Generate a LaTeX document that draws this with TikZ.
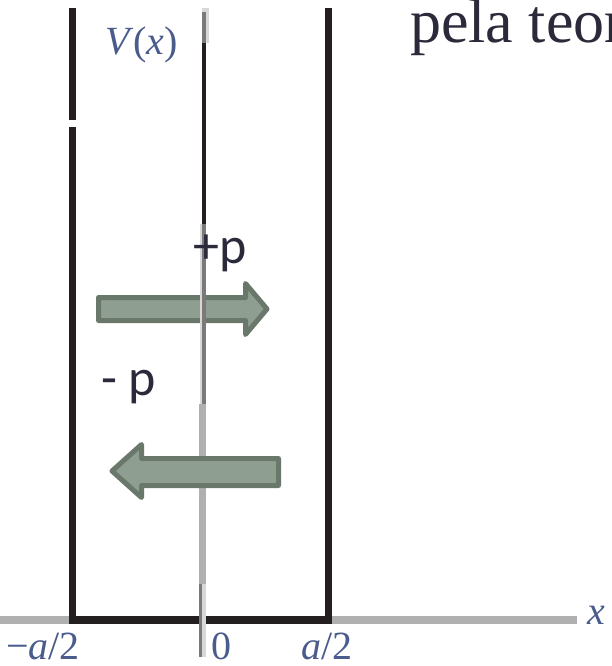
\documentclass[tikz,border=0pt]{standalone}
\usepackage{fontspec}
\setmainfont{Liberation Serif}
\newfontfamily\calibfont{Carlito}
\definecolor{wallc}{HTML}{231F20}
\definecolor{axisc}{HTML}{B0B0B0}
\definecolor{midg}{HTML}{7A7A7A}
\definecolor{lightg}{HTML}{D8D8D8}
\definecolor{arrowfill}{HTML}{8E9E90}
\definecolor{arrowline}{HTML}{6A776B}
\definecolor{labelc}{HTML}{4A5C8C}
\definecolor{textc}{HTML}{2B2A3A}
\tikzset{
  wallpart/.style={fill=wallc},
  fatarrow/.style={fill=arrowfill, draw=arrowline, line width=5pt, line join=round},
  axlabel/.style={anchor=base west, inner sep=0pt, text depth=0pt, text=labelc, font=\fontsize{40}{48}\selectfont},
  plabel/.style={anchor=base west, inner sep=0pt, text=textc, font=\calibfont\fontsize{52}{60}\selectfont},
}
\begin{document}
\begin{tikzpicture}[x=1pt,y=-1pt]
\useasboundingbox (0,0) rectangle (612,666);
\clip (0,0) rectangle (612,666);
% x axis
\fill[axisc] (0,616) rectangle (577,624);
% walls
\fill[wallpart] (69,8) rectangle (76,120);
\fill[wallpart] (69,127) rectangle (76,624);
\fill[wallpart] (325,8) rectangle (332,624);
\fill[wallpart] (69,616) rectangle (332,624);
% right arrow (+p)
\draw[fatarrow] (98.5,297.5) -- (245.5,297.5) -- (245.5,283.5) -- (267,309) -- (245.5,334.5) -- (245.5,320.5) -- (98.5,320.5) -- cycle;
% centre line
\fill[lightg] (202,8) rectangle (209,12);
\fill[midg] (202,12) rectangle (206,43);
\fill[lightg] (206,12) rectangle (209,43);
\fill[wallc] (202,43) rectangle (206,224);
\fill[lightg] (200,224) rectangle (202,404);
\fill[midg] (202,224) rectangle (206,404);
\fill[axisc] (199,404) rectangle (206,584);
\fill[midg] (199,584) rectangle (202,657);
\fill[lightg] (202,584) rectangle (206,657);
% left arrow (-p)
\draw[fatarrow] (278.5,458.5) -- (141.5,458.5) -- (141.5,444.5) -- (112,471) -- (141.5,497.5) -- (141.5,485.5) -- (278.5,485.5) -- cycle;
% texts
\node[plabel] (pplus) at (193,263) {+p};
\node[plabel] (pminus) at (101,395) {- p};
\node[anchor=base west, inner sep=0pt, text=textc, font=\fontsize{62}{70}\selectfont] (pela) at (410,43) {pela teor};
\node[axlabel] (vx) at (105,55) {\textit{V}(\textit{x})};
\node[axlabel] (lma) at (6,659) {−\textit{a}/2};
\node[axlabel] (lzero) at (211,659) {0};
\node[axlabel] (lpa) at (301,659) {\textit{a}/2};
\node[axlabel] (lx) at (587,624) {\textit{x}};
\end{tikzpicture}
\end{document}
